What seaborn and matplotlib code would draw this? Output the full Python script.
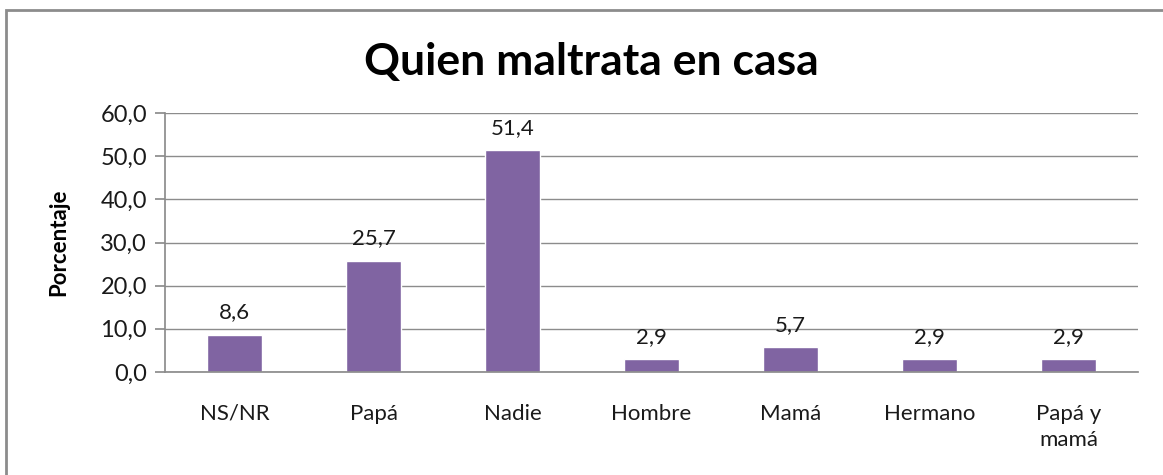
import matplotlib
matplotlib.use("Agg")
import matplotlib.pyplot as plt
import seaborn as sns
import pandas as pd
from matplotlib.ticker import FuncFormatter, MultipleLocator
from matplotlib.patches import Rectangle

categories = ["NS/NR", "Papá", "Nadie", "Hombre", "Mamá", "Hermano", "Papá y\nmamá"]
values = [8.6, 25.7, 51.4, 2.9, 5.7, 2.9, 2.9]

sns.set_theme(style="white")
plt.rcParams['font.family'] = ['Lato', 'DejaVu Sans']

df = pd.DataFrame({"cat": categories, "val": values})

W, H = 1163, 475
fig = plt.figure(figsize=(W / 100, H / 100), dpi=100)
ax = fig.add_axes([165 / W, 1 - 372 / H, (1138 - 165) / W, (372 - 113) / H])

sns.barplot(data=df, x="cat", y="val", color="#8064A2", saturation=1, width=0.4, ax=ax)

ax.set_ylim(0, 60)
ax.yaxis.set_major_locator(MultipleLocator(10))
ax.yaxis.set_major_formatter(FuncFormatter(lambda v, p: f"{v:.1f}".replace(".", ",")))
ax.grid(axis="y", color="#8c8c8c", linewidth=1)
ax.set_axisbelow(True)
for s in ["top", "right"]:
    ax.spines[s].set_visible(False)
ax.spines["left"].set_color("#8c8c8c")
ax.spines["bottom"].set_color("#8c8c8c")
ax.tick_params(axis="y", left=True, length=7, color="#8c8c8c", labelsize=17, pad=6, labelcolor="#1a1a1a")
ax.tick_params(axis="x", bottom=False, labelsize=16, pad=17, labelcolor="#1a1a1a")
for t in ax.get_xticklabels():
    t.set_linespacing(1.35)
ax.set_xlabel("")
ax.set_ylabel("Porcentaje", fontsize=16, fontweight="bold", labelpad=22, color="black")

for i, v in enumerate(values):
    ax.annotate(f"{v:.1f}".replace(".", ","), (i, v), xytext=(0, 9), textcoords="offset points",
                ha="center", va="bottom", fontsize=16, color="#1a1a1a")

fig.text(591.5 / W, 1 - 62 / H, "Quien maltrata en casa", ha="center", va="center",
         fontsize=32, fontweight="bold", color="black")

fig.patches.append(Rectangle((6 / W, -0.1), 1.2, 1 - 10 / H + 0.1, transform=fig.transFigure,
                             fill=False, edgecolor="#8c8c8c", linewidth=2))

fig.savefig("out.png", dpi=100)
